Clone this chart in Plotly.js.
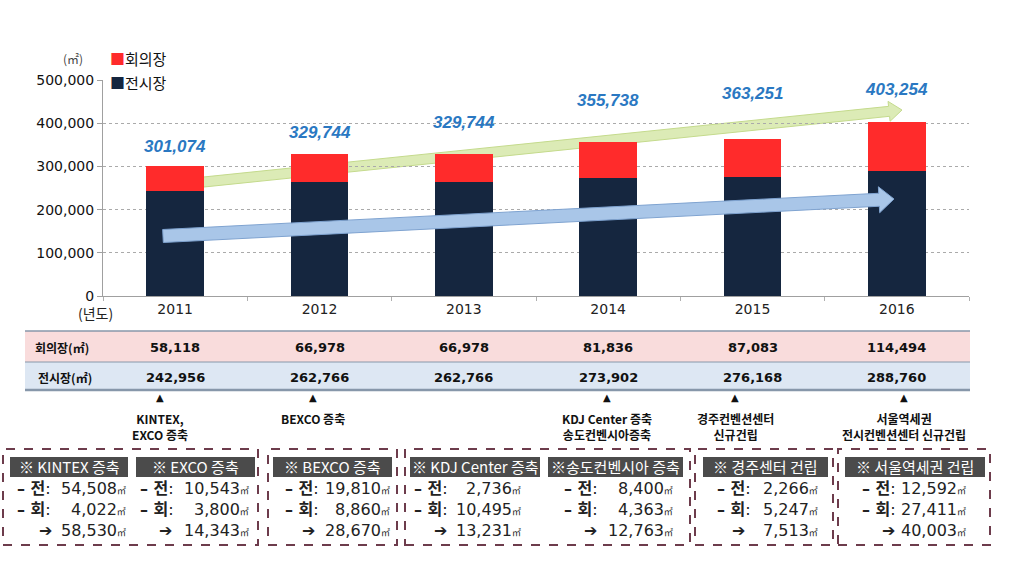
<!DOCTYPE html>
<html><head><meta charset="utf-8">
<script src="https://cdn.plot.ly/plotly-3.0.1.min.js"></script>
<style>html,body{margin:0;padding:0;background:#fff;}#chart{width:1024px;height:569px;}</style>
</head><body><div id="chart"></div>
<script>
// ---------- data ----------
const years = ['2011','2012','2013','2014','2015','2016'];
const conference = [58118, 66978, 66978, 81836, 87083, 114494];   // 회의장
const exhibition = [242956, 262766, 262766, 273902, 276168, 288760]; // 전시장
const yTicks = [0, 100000, 200000, 300000, 400000, 500000];
const eventLabels = ['KINTEX,<br>EXCO 증축','BEXCO 증축','','KDJ Center 증축<br>송도컨벤시아증축','경주컨벤션센터<br>신규건립','서울역세권<br>전시컨벤션센터 신규건립'];
const boxTitles = ['※ KINTEX 증축','※ EXCO 증축','※ BEXCO 증축','※ KDJ Center 증축','※송도컨벤시아 증축','※ 경주센터 건립','※ 서울역세권 건립'];
const boxExhibit = [54508, 10543, 19810, 2736, 8400, 2266, 12592];
const boxConf = [4022, 3800, 8860, 10495, 4363, 5247, 27411];
const boxTotal = [58530, 14343, 28670, 13231, 12763, 7513, 40003];

const totals = years.map((_, i) => conference[i] + exhibition[i]);
const fmt = v => v.toLocaleString('en-US');

// ---------- layout helpers (pixel -> paper) ----------
const L = 103, R = 969, T = 80, B = 296;
const px = x => (x - L) / (R - L);
const py = y => (B - y) / (B - T);
const KR = 'Noto Sans CJK KR';
const NUM = 'DejaVu Sans, Noto Sans CJK KR';

const annotations = [];
const shapes = [];
function ann(x, y, text, font, extra) {
  annotations.push(Object.assign({xref:'paper', yref:'paper', x:px(x), y:py(y), text:text,
    showarrow:false, xanchor:'center', yanchor:'middle', font:font}, extra || {}));
}

// value labels above bars (x = category index on the category axis)
const labelLift = [19, 21, 31, 42, 46, 32];
years.forEach((yr, i) => {
  annotations.push({xref:'x', yref:'y', x:i, y:totals[i], yshift:labelLift[i], text:'<b><i>' + fmt(totals[i]) + '</i></b>',
    showarrow:false, xanchor:'center', yanchor:'middle', font:{family:'Liberation Sans, Arial', size:17, color:'#2a78c2'}});
});

// unit + legend-like labels
ann(73, 59, '(㎡)', {family:KR, size:12, color:'#444'});
ann(108, 59, '<span style="color:#ff2b2b">■</span>회의장', {family:KR, size:15, color:'#111'}, {xanchor:'left'});
ann(108, 83, '<span style="color:#15263f">■</span>전시장', {family:KR, size:15, color:'#111'}, {xanchor:'left'});
ann(95, 313, '(년도)', {family:KR, size:14, color:'#222'});

// table rows
shapes.push({type:'rect', xref:'paper', yref:'paper', x0:px(25), x1:px(970), y0:py(362), y1:py(331), fillcolor:'#f9dcdc', line:{width:0}, layer:'below'});
shapes.push({type:'rect', xref:'paper', yref:'paper', x0:px(25), x1:px(970), y0:py(390), y1:py(362), fillcolor:'#dde7f3', line:{width:0}, layer:'below'});
[[331,1.5],[362,1.2],[390,2.5]].forEach(([y,w]) => shapes.push({type:'line', xref:'paper', yref:'paper', x0:px(25), x1:px(970), y0:py(y), y1:py(y), line:{color:'#8797aa', width:w}}));
ann(62, 347, '<b>회의장(㎡)</b>', {family:KR, size:12, color:'#111'});
ann(65, 377, '<b>전시장(㎡)</b>', {family:KR, size:12, color:'#111'});
years.forEach((yr, i) => {
  annotations.push({xref:'x', yref:'paper', x:i, y:py(347), yanchor:'middle', xanchor:'center', text:'<b>' + fmt(conference[i]) + '</b>', showarrow:false, font:{family:NUM, size:13, color:'#111'}});
  annotations.push({xref:'x', yref:'paper', x:i, y:py(377), yanchor:'middle', xanchor:'center', text:'<b>' + fmt(exhibition[i]) + '</b>', showarrow:false, font:{family:NUM, size:13, color:'#111'}});
});

// event markers
const eventX = [160, 313, 0, 607, 735, 904];
eventLabels.forEach((t, i) => {
  if (!t) return;
  ann(eventX[i], 397, '▲', {family:'DejaVu Sans', size:10, color:'#111'});
  ann(eventX[i], 408, '<b>' + t + '</b>', {family:KR, size:12, color:'#111'}, {yanchor:'top'});
});

// dashed boxes
[[3,258],[268,397],[405,690],[695,833],[838,990]].forEach(([a,b]) => shapes.push({type:'rect', xref:'paper', yref:'paper',
  x0:px(a), x1:px(b), y0:py(545), y1:py(449), line:{color:'#6d3c4c', width:2, dash:'dash'}, fillcolor:'rgba(0,0,0,0)'}));

// box contents
const hdr = [[10,128],[136,255],[273,392],[410,540],[548,683],[703,828],[845,985]];
const lblX = [15, 138, 283, 412, 562, 715, 860];
const arrX = [37, 157, 300, 432, 582, 730, 880];
const valR = [128, 251, 392, 523, 675, 820, 968];
const unit = '<span style="font-size:9px">㎡</span>';
boxTitles.forEach((t, i) => {
  shapes.push({type:'rect', xref:'paper', yref:'paper', x0:px(hdr[i][0]), x1:px(hdr[i][1]), y0:py(477), y1:py(457), fillcolor:'#4b4b4b', line:{width:0}});
  ann((hdr[i][0]+hdr[i][1])/2, 467, t, {family:KR, size:15, color:'#ffffff'});
  ann(lblX[i], 488, '<b>– 전</b>:', {family:NUM, size:16, color:'#222'}, {xanchor:'left'});
  ann(lblX[i], 509, '<b>– 회</b>:', {family:NUM, size:16, color:'#222'}, {xanchor:'left'});
  ann(arrX[i], 530, '<b>➔</b>', {family:'DejaVu Sans', size:16, color:'#222'}, {xanchor:'left'});
  ann(valR[i], 488, fmt(boxExhibit[i]) + unit, {family:NUM, size:16, color:'#222'}, {xanchor:'right'});
  ann(valR[i], 509, fmt(boxConf[i]) + unit, {family:NUM, size:16, color:'#222'}, {xanchor:'right'});
  ann(valR[i], 530, fmt(boxTotal[i]) + unit, {family:NUM, size:16, color:'#222'}, {xanchor:'right'});
});

// decorative trend arrows
function arrowPath(x0, y0, x1, y1, th, hl, hw) {
  const dx = x1 - x0, dy = y1 - y0, len = Math.hypot(dx, dy);
  const ux = dx/len, uy = dy/len, nx = -uy, ny = ux;
  const bx = x1 - ux*hl, by = y1 - uy*hl;
  const pts = [[x0+nx*th/2, y0+ny*th/2],[bx+nx*th/2, by+ny*th/2],[bx+nx*hw/2, by+ny*hw/2],[x1,y1],
               [bx-nx*hw/2, by-ny*hw/2],[bx-nx*th/2, by-ny*th/2],[x0-nx*th/2, y0-ny*th/2]];
  return 'M' + pts.map(p => px(p[0]).toFixed(5) + ',' + py(p[1]).toFixed(5)).join('L') + 'Z';
}
shapes.push({type:'path', xref:'paper', yref:'paper', path:arrowPath(165,186,902,110,10,13,20), fillcolor:'#dcebb6', line:{color:'#c4da8c', width:1}, layer:'below'});
shapes.push({type:'path', xref:'paper', yref:'paper', path:arrowPath(163,236,894,199,13,15,26), fillcolor:'#a9c6e8', line:{color:'#7fa3d0', width:1}, layer:'above'});

const data = [
  {type:'bar', name:'전시장', x:years, y:exhibition, marker:{color:'#15263f'}, width:0.4, hoverinfo:'skip'},
  {type:'bar', name:'회의장', x:years, y:conference, marker:{color:'#ff2b2b'}, width:0.4, hoverinfo:'skip'}
];

const layout = {
  width:1024, height:569, autosize:false,
  margin:{l:L, r:1024-R, t:T, b:569-B},
  paper_bgcolor:'#ffffff', plot_bgcolor:'rgba(0,0,0,0)',
  barmode:'stack', showlegend:false,
  xaxis:{type:'category', range:[-0.5,5.5], showline:true, linecolor:'#a0a0a0', linewidth:1,
    ticks:'outside', tickson:'boundaries', ticklen:4, tickcolor:'#b0b0b0', showgrid:false,
    tickfont:{family:'DejaVu Sans', size:14, color:'#222'}, fixedrange:true},
  yaxis:{range:[0,500000], tickvals:yTicks, tickformat:',d', showline:true, linecolor:'#a0a0a0',
    ticks:'outside', ticklen:5, tickcolor:'#a0a0a0', showgrid:true, gridcolor:'#aaaaaa', griddash:'dot',
    zeroline:false, tickfont:{family:'DejaVu Sans', size:14, color:'#111'}, fixedrange:true},
  annotations:annotations, shapes:shapes
};
Plotly.newPlot('chart', data, layout, {displayModeBar:false, staticPlot:true});
</script></body></html>
